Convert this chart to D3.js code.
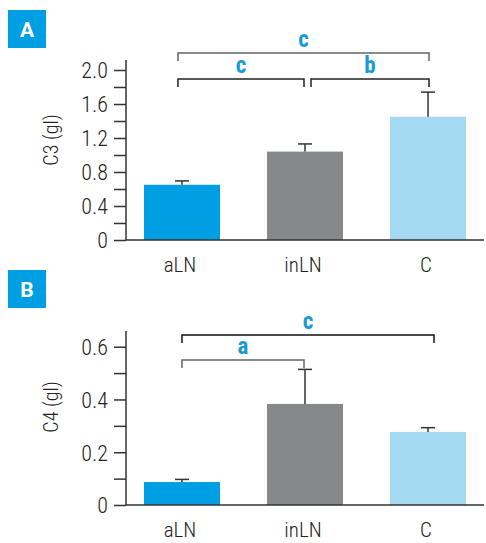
<!DOCTYPE html>
<html>
<head>
<meta charset="utf-8">
<script src="https://cdn.jsdelivr.net/npm/d3@7"></script>
<style>
  body { margin: 0; background: #fff; }
  svg text { font-family: "Roboto Condensed", "Roboto", sans-serif; font-weight: 300; }
</style>
</head>
<body>
<div id="vis"></div>
<script>
// data
var categories = ["aLN", "inLN", "C"];
var c3Values = [0.65, 1.04, 1.45];
var c3Errors = [0.045, 0.09, 0.29];
var c4Values = [0.087, 0.383, 0.277];
var c4Errors = [0.01, 0.131, 0.016];
var c3Ticks = [0, 0.2, 0.4, 0.6, 0.8, 1.0, 1.2, 1.4, 1.6, 1.8, 2.0];
var c4Ticks = [0, 0.1, 0.2, 0.3, 0.4, 0.5, 0.6];
var c3Brackets = [
    {from: 0, to: 2, label: "c", row: 0},
    {from: 0, to: 1, label: "c", row: 1},
    {from: 1, to: 2, label: "b", row: 1}
];
var c4Brackets = [
    {from: 0, to: 2, label: "c", row: 0},
    {from: 0, to: 1, label: "a", row: 1}
];
var barColors = ["#009ee2", "#87888a", "#a4d9f2"];

var W = 486, H = 543;
var svg = d3.select("#vis").append("svg")
    .attr("width", W)
    .attr("height", H);

var x = d3.scaleBand()
    .domain(categories)
    .range([126, 484])
    .paddingInner(0.382)
    .paddingOuter(0.146);

function drawPanel(p) {
    var g = svg.append("g");

    // panel letter
    g.append("rect")
        .attr("x", 8).attr("y", p.boxY)
        .attr("width", 38).attr("height", 38)
        .attr("fill", "#009ee2");
    g.append("text")
        .attr("x", 27).attr("y", p.boxY + 27)
        .attr("text-anchor", "middle")
        .style("font-family", "Roboto, sans-serif")
        .style("font-weight", "bold")
        .style("font-size", "21px")
        .attr("fill", "#fff")
        .text(p.letter);

    var y = d3.scaleLinear().domain([0, p.max]).range([p.base, p.maxY]);

    // bars
    g.selectAll("rect.bar")
        .data(p.values)
        .enter().append("rect")
        .attr("class", "bar")
        .attr("x", function(d, i) { return x(categories[i]); })
        .attr("y", function(d) { return y(d); })
        .attr("width", x.bandwidth())
        .attr("height", function(d) { return p.base - y(d); })
        .attr("fill", function(d, i) { return barColors[i]; });

    // error bars (upper only)
    var cx = function(i) { return x(categories[i]) + x.bandwidth() / 2; };
    p.values.forEach(function(v, i) {
        var top = y(v + p.errors[i]);
        g.append("line")
            .attr("x1", cx(i)).attr("x2", cx(i))
            .attr("y1", y(v)).attr("y2", top)
            .attr("stroke", "#333").attr("stroke-width", 1.5);
        g.append("line")
            .attr("x1", cx(i) - 7).attr("x2", cx(i) + 7)
            .attr("y1", top).attr("y2", top)
            .attr("stroke", "#333").attr("stroke-width", 1.5);
    });

    // y axis
    var axis = d3.axisLeft(y)
        .tickValues(p.ticks)
        .tickSize(12)
        .tickPadding(6)
        .tickFormat(function(d, i) {
            if (i % 2) return "";
            return d === 0 ? "0" : d3.format(".1f")(d);
        });
    var ag = g.append("g")
        .attr("transform", "translate(126,0)")
        .call(axis);
    ag.select(".domain").remove();
    ag.attr("font-family", null);
    ag.selectAll(".tick line").attr("stroke", "#333").attr("stroke-width", 1.5);
    ag.selectAll(".tick text")
        .style("font-size", "22px")
        .attr("fill", "#222")
        .attr("dy", "0.36em");

    g.append("line")
        .attr("x1", 126).attr("x2", 126)
        .attr("y1", p.axisTop).attr("y2", p.base)
        .attr("stroke", "#333").attr("stroke-width", 1.5);
    g.append("line")
        .attr("x1", 126).attr("x2", 484)
        .attr("y1", p.base).attr("y2", p.base)
        .attr("stroke", "#333").attr("stroke-width", 1.5);

    // category labels
    g.selectAll("text.cat")
        .data(categories)
        .enter().append("text")
        .attr("class", "cat")
        .attr("x", function(d) { return x(d) + x.bandwidth() / 2 - 2; })
        .attr("y", p.base + 32)
        .attr("text-anchor", "middle")
        .style("font-size", "21px")
        .attr("fill", "#222")
        .text(function(d) { return d; });

    // y title
    g.append("text")
        .attr("transform", "translate(" + [58, p.titleY] + ")rotate(-90)")
        .attr("text-anchor", "middle")
        .style("font-size", "20px")
        .attr("fill", "#222")
        .text(p.title);

    // significance brackets
    p.brackets.forEach(function(b) {
        var by = p.bracketY[b.row];
        var x1 = cx(b.from) + (b.from === 0 ? p.leftShift : 6);
        var x2 = cx(b.to) + (b.to === 1 ? -1 : p.rightShift);
        g.append("path")
            .attr("d", "M" + x1 + "," + (by + 8) + "V" + by + "H" + x2 + "V" + (by + 8))
            .attr("fill", "none")
            .attr("stroke", p.rowColors[b.row])
            .attr("stroke-width", 1.5);
        g.append("text")
            .attr("x", (x1 + x2) / 2)
            .attr("y", by - 6)
            .attr("text-anchor", "middle")
            .style("font-size", "23px")
            .style("font-weight", "bold")
            .attr("fill", "#1a9ad8")
            .text(b.label);
    });
}

drawPanel({
    letter: "A", boxY: 10, title: "C3 (gl)", titleY: 140,
    values: c3Values, errors: c3Errors, ticks: c3Ticks, brackets: c3Brackets,
    max: 2.0, base: 240, maxY: 70, axisTop: 60, bracketY: [53, 79],
    leftShift: -4, rightShift: 1, rowColors: ["#666", "#222"]
});

drawPanel({
    letter: "B", boxY: 270, title: "C4 (gl)", titleY: 407,
    values: c4Values, errors: c4Errors, ticks: c4Ticks, brackets: c4Brackets,
    max: 0.6, base: 505, maxY: 346.7, axisTop: 331, bracketY: [335, 360],
    leftShift: 0, rightShift: 6, rowColors: ["#111", "#666"]
});
</script>
</body>
</html>
